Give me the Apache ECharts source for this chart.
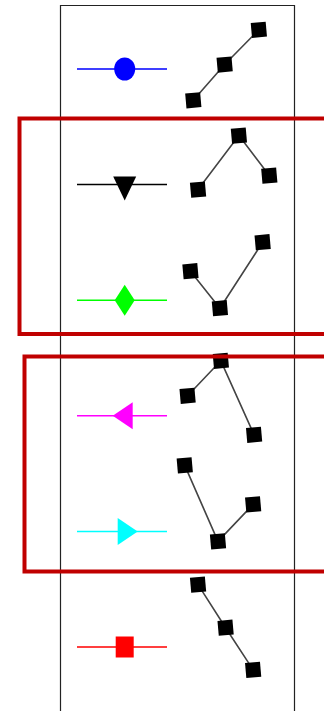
<!DOCTYPE html>
<html>
<head>
<meta charset="utf-8">
<script src="https://cdn.jsdelivr.net/npm/echarts@6/dist/echarts.min.js"></script>
<style>
  html, body { margin: 0; padding: 0; background: #fff; }
  #main { width: 324px; height: 711px; }
</style>
</head>
<body>
<div id="main"></div>
<script>
// Legend-style handles, one per row
const markerSymbols = ["circle", "triangle", "diamond", "triangle", "triangle", "rect"];
const markerColors = ["#0000ff", "#000000", "#00ff00", "#ff00ff", "#00ffff", "#ff0000"];
const markerRotations = [0, 180, 0, 90, -90, 0];
const handleX = [0, 5.3, 10];

// Small three-point lines beside each handle (x 0..10, y 0..14)
const sampleX = [
  [1.4, 4.7, 8.3],
  [1.9, 6.2, 9.4],
  [1.1, 4.2, 8.7],
  [0.8, 4.3, 7.8],
  [0.5, 4.0, 7.7],
  [1.9, 4.8, 7.7],
];
const sampleY = [
  [3.9, 7.5, 11.0],
  [6.5, 11.9, 7.9],
  [9.9, 6.2, 12.8],
  [9.0, 12.5, 5.1],
  [13.6, 6.0, 9.7],
  [13.2, 8.7, 4.3],
];

// marker sizes / offsets (style only)
const markerSizes = [[21, 23], [23, 24], [20, 31], [27, 20], [27, 20], [18, 21]];
const markerOffsets = [[0, 0], [0, 4], [0, 0], [-2, 0], [3, 0], [0, 0]];

const rowCenter = (i) => 69 + 115.6 * i;

const grids = [];
const xAxes = [];
const yAxes = [];
const series = [];

markerSymbols.forEach((sym, i) => {
  const yc = rowCenter(i);

  // handle grid
  grids.push({ left: 77, width: 90, top: yc - 10, height: 20 });
  xAxes.push({ type: "value", gridIndex: 2 * i, min: 0, max: 10, show: false });
  yAxes.push({ type: "value", gridIndex: 2 * i, min: -1, max: 1, show: false });
  series.push({
    type: "line",
    xAxisIndex: 2 * i,
    yAxisIndex: 2 * i,
    silent: true,
    clip: false,
    lineStyle: { color: markerColors[i], width: 1.5 },
    itemStyle: { color: markerColors[i] },
    data: handleX.map((x, k) =>
      k === 1
        ? {
            value: [x, 0],
            symbol: sym,
            symbolSize: markerSizes[i],
            symbolRotate: markerRotations[i],
            symbolOffset: markerOffsets[i],
          }
        : { value: [x, 0], symbol: "none" }
    ),
  });

  // sample grid
  grids.push({ left: 180, width: 95, top: yc - 70, height: 140 });
  xAxes.push({ type: "value", gridIndex: 2 * i + 1, min: 0, max: 10, show: false });
  yAxes.push({ type: "value", gridIndex: 2 * i + 1, min: 0, max: 14, show: false });
  series.push({
    type: "line",
    xAxisIndex: 2 * i + 1,
    yAxisIndex: 2 * i + 1,
    silent: true,
    clip: false,
    symbol: "rect",
    symbolSize: 15,
    symbolRotate: 5,
    showAllSymbol: true,
    lineStyle: { color: "#444", width: 1.6 },
    itemStyle: { color: "#000" },
    data: sampleX[i].map((x, k) => [x, sampleY[i][k]]),
  });
});

const chart = echarts.init(document.getElementById("main"));
chart.setOption({
  animation: false,
  grid: grids,
  xAxis: xAxes,
  yAxis: yAxes,
  series: series,
  graphic: [
    {
      type: "rect",
      shape: { x: 60.5, y: 5.5, width: 234, height: 720 },
      style: { fill: null, stroke: "#222", lineWidth: 1.2 },
      z: -1,
    },
    {
      type: "rect",
      shape: { x: 19.5, y: 118.5, width: 330, height: 215.5 },
      style: { fill: null, stroke: "#c00000", lineWidth: 4 },
      z: 100,
    },
    {
      type: "rect",
      shape: { x: 24.5, y: 356.5, width: 330, height: 215 },
      style: { fill: null, stroke: "#c00000", lineWidth: 4 },
      z: 100,
    },
  ],
});
window.addEventListener("resize", () => chart.resize());
</script>
</body>
</html>
